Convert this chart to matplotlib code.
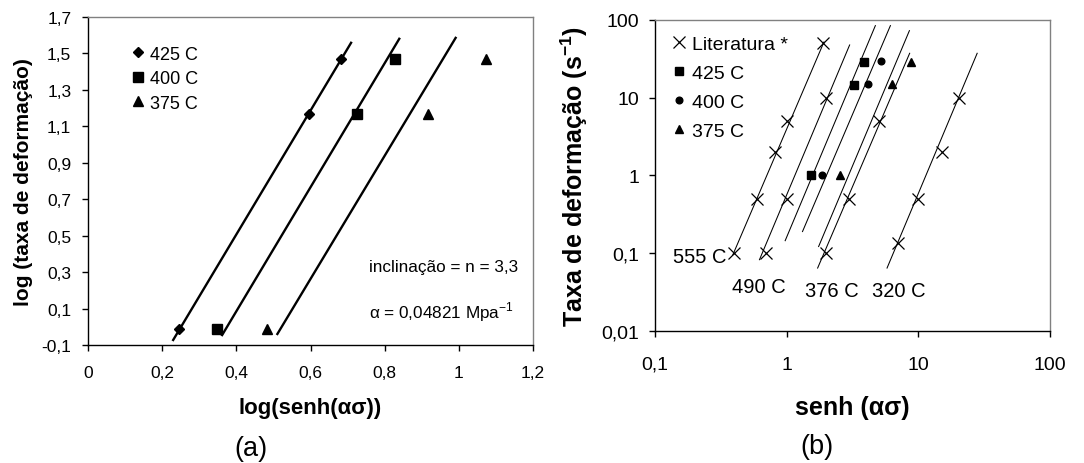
import matplotlib
matplotlib.use("Agg")
import matplotlib.pyplot as plt
from matplotlib.ticker import FixedLocator, FixedFormatter

plt.rcParams['font.family'] = ['Liberation Sans', 'DejaVu Sans']
plt.rcParams['mathtext.fontset'] = 'custom'
plt.rcParams['mathtext.rm'] = 'Liberation Sans'
plt.rcParams['mathtext.bf'] = 'Liberation Sans:bold'

# ---- panel (a) data: log(senh(alpha*sigma)) vs log(strain rate)
a_x425 = [0.245, 0.595, 0.683]
a_y425 = [-0.01, 1.17, 1.47]
a_x400 = [0.348, 0.726, 0.828]
a_y400 = [-0.01, 1.17, 1.47]
a_x375 = [0.482, 0.916, 1.074]
a_y375 = [-0.01, 1.165, 1.47]

# fitted lines (end points)
fit_a = {
    '425': ([0.228, 0.711], [-0.078, 1.564]),
    '400': ([0.360, 0.841], [-0.051, 1.586]),
    '375': ([0.509, 0.993], [-0.045, 1.591]),
}

a_xticks = [0, 0.2, 0.4, 0.6, 0.8, 1.0, 1.2]
a_xlabels = ['0', '0,2', '0,4', '0,6', '0,8', '1', '1,2']
a_yticks = [-0.1, 0.1, 0.3, 0.5, 0.7, 0.9, 1.1, 1.3, 1.5, 1.7]
a_ylabels = ['-0,1', '0,1', '0,3', '0,5', '0,7', '0,9', '1,1', '1,3', '1,5', '1,7']

# ---- panel (b) data: senh(alpha*sigma) vs strain rate (log-log)
lit_555_x = [0.40, 0.60, 0.82, 1.0, 1.9]
lit_555_y = [0.1, 0.5, 2, 5, 50]
lit_490_x = [0.70, 1.0, 2.0]
lit_490_y = [0.1, 0.5, 10]
lit_376_x = [2.0, 3.0, 5.0]
lit_376_y = [0.1, 0.5, 5]
lit_320_x = [7.0, 10.0, 15.2, 20.4]
lit_320_y = [0.135, 0.5, 2, 10]

b_x425 = [1.54, 3.24, 3.86]
b_y425 = [1.0, 14.6, 28.6]
b_x400 = [1.87, 4.14, 5.17]
b_y400 = [1.0, 15, 30]
b_x375 = [2.53, 6.27, 8.75]
b_y375 = [1.0, 15, 29]

lines_b = [
    ([0.39, 1.92], [0.095, 52]),     # 555 C
    ([0.622, 3.01], [0.0826, 47.7]), # 490 C
    ([0.975, 4.72], [0.145, 84.6]),  # 425 C
    ([1.32, 6.14], [0.19, 84.6]),    # 400 C
    ([1.75, 8.56], [0.122, 72.9]),   # 375 C
    ([1.72, 8.6], [0.0645, 37.3]),   # 376 C
    ([5.79, 28.0], [0.0645, 37.3]),  # 320 C
]

b_ticks_x = [0.1, 1, 10, 100]
b_labels_x = ['0,1', '1', '10', '100']
b_ticks_y = [0.01, 0.1, 1, 10, 100]
b_labels_y = ['0,01', '0,1', '1', '10', '100']

temp_labels = [('555 C', 0.351, 0.090, 'right'),
               ('490 C', 0.383, 0.037, 'left'),
               ('376 C', 1.38, 0.033, 'left'),
               ('320 C', 4.45, 0.033, 'left')]

fig = plt.figure(figsize=(10.84, 4.64), dpi=100)

def style_axes(ax):
    for s in ['top', 'right']:
        ax.spines[s].set_color('#808080')
    for s in ['left', 'bottom']:
        ax.spines[s].set_color('black')
    for s in ax.spines.values():
        s.set_linewidth(1.0)
    ax.tick_params(direction='out', length=4, width=1, color='black')
    ax.tick_params(which='minor', length=0)

# ---------------- (a)
ax1 = fig.add_axes([0.0812, 0.2543, 0.4105, 0.7069])
for k, (xs, ys) in fit_a.items():
    ax1.plot(xs, ys, color='black', lw=1.7, solid_capstyle='butt')
ax1.plot(a_x425, a_y425, 'D', color='black', ms=5.5, label='425 C')
ax1.plot(a_x400, a_y400, 's', color='black', ms=7, label='400 C')
ax1.plot(a_x375, a_y375, '^', color='black', ms=7.7, label='375 C')
ax1.set_xlim(0, 1.2)
ax1.set_ylim(-0.1, 1.7)
ax1.xaxis.set_major_locator(FixedLocator(a_xticks))
ax1.xaxis.set_major_formatter(FixedFormatter(a_xlabels))
ax1.yaxis.set_major_locator(FixedLocator(a_yticks))
ax1.yaxis.set_major_formatter(FixedFormatter(a_ylabels))
style_axes(ax1)
ax1.tick_params(labelsize=12.5)
ax1.tick_params(axis='x', pad=10.5)
ax1.tick_params(axis='y', pad=8)
handles, labels = ax1.get_legend_handles_labels()
ax1.legend(handles, labels, loc='upper left', bbox_to_anchor=(0.084, 0.935),
           frameon=False, fontsize=13, handlelength=0.6, handletextpad=0.35,
           labelspacing=0.42, borderaxespad=0)
ax1.text(0.757, 0.33, 'inclinação = n = 3,3', fontsize=12.3, va='center')
ax1.text(0.757, 0.083, r'α = 0,04821 Mpa$^{\mathregular{-1}}$', fontsize=12.3, va='center')
ax1.set_xlabel('log(senh(ασ))', fontsize=16, fontweight='bold', labelpad=12)
ax1.set_ylabel('log (taxa de deformação)', fontsize=15, fontweight='bold', labelpad=6)
fig.text(0.2315, 0.032, '(a)', fontsize=19.5, ha='center', va='center')

# ---------------- (b)
ax2 = fig.add_axes([0.6042, 0.2845, 0.3644, 0.6703])
ax2.set_xscale('log')
ax2.set_yscale('log')
for xs, ys in lines_b:
    ax2.plot(xs, ys, color='black', lw=0.75)
lit_x = lit_555_x + lit_490_x + lit_376_x + lit_320_x
lit_y = lit_555_y + lit_490_y + lit_376_y + lit_320_y
ax2.plot(lit_x, lit_y, 'x', color='black', ms=9, mew=0.9, label='Literatura *')
ax2.plot(b_x425, b_y425, 's', color='black', ms=5.5, label='425 C')
ax2.plot(b_x400, b_y400, 'o', color='black', ms=4.8, label='400 C')
ax2.plot(b_x375, b_y375, '^', color='black', ms=6, label='375 C')
for txt, x, y, ha in temp_labels:
    ax2.text(x, y, txt, fontsize=14.5, ha=ha, va='center')
ax2.set_xlim(0.1, 100)
ax2.set_ylim(0.01, 100)
ax2.xaxis.set_major_locator(FixedLocator(b_ticks_x))
ax2.xaxis.set_major_formatter(FixedFormatter(b_labels_x))
ax2.yaxis.set_major_locator(FixedLocator(b_ticks_y))
ax2.yaxis.set_major_formatter(FixedFormatter(b_labels_y))
ax2.xaxis.set_minor_locator(FixedLocator([]))
ax2.yaxis.set_minor_locator(FixedLocator([]))
style_axes(ax2)
ax2.tick_params(labelsize=14)
ax2.tick_params(axis='x', pad=14)
ax2.tick_params(axis='y', pad=7.5)
ax2.legend(loc='upper left', bbox_to_anchor=(0.026, 0.976), frameon=False,
           fontsize=14, handlelength=0.6, handletextpad=0.4,
           labelspacing=0.59, borderaxespad=0)
ax2.set_xlabel('senh (ασ)', fontsize=18, fontweight='bold', labelpad=16)
ax2.set_ylabel(r'Taxa de deformação (s$^{\mathbf{-1}}$)', fontsize=18,
               fontweight='bold', labelpad=8)
fig.text(0.7537, 0.0366, '(b)', fontsize=19.5, ha='center', va='center')

fig.savefig('out.png', dpi=100)
